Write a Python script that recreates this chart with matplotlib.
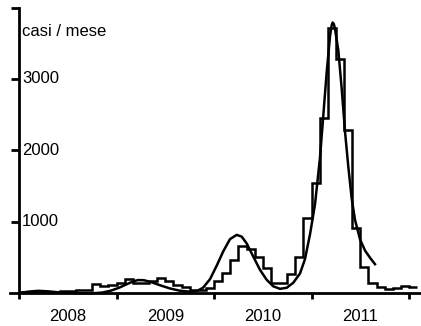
import matplotlib
import matplotlib.pyplot as plt
import numpy as np

matplotlib.use("Agg")
plt.rcParams["font.family"] = ["Liberation Sans", "DejaVu Sans"]

# monthly cases, Jan 2008 .. Jan 2012
cases_2008 = [20, 25, 25, 25, 25, 30, 30, 55, 55, 130, 110, 115]
cases_2009 = [140, 205, 140, 140, 178, 212, 178, 120, 85, 55, 55, 80]
cases_2010 = [170, 280, 465, 665, 620, 510, 350, 148, 145, 270, 515, 1050]
cases_2011 = [1540, 2450, 3710, 3280, 2290, 920, 375, 145, 95, 65, 75, 110]
cases_2012 = [95]
first_year = 2008

# fitted curve (decimal year, cases/month)
fit_year = [2008.000, 2008.092, 2008.195, 2008.297, 2008.421, 2008.574, 2008.749,
            2008.851, 2008.944, 2009.026, 2009.097, 2009.169, 2009.221, 2009.282,
            2009.354, 2009.446, 2009.549, 2009.651, 2009.754, 2009.826, 2009.887,
            2009.959, 2010.028, 2010.095, 2010.164, 2010.233, 2010.284, 2010.335,
            2010.403, 2010.472, 2010.541, 2010.608, 2010.677, 2010.746, 2010.813,
            2010.882, 2010.933, 2010.985, 2011.036, 2011.087, 2011.156, 2011.190,
            2011.205, 2011.217, 2011.229, 2011.241, 2011.275, 2011.310, 2011.344,
            2011.377, 2011.412, 2011.446, 2011.497, 2011.549, 2011.600, 2011.651]
fit_cases = [5, 25, 37, 30, 14, 4, 2,
             12, 40, 80, 125, 168, 188, 185,
             160, 115, 70, 38, 25, 35, 80,
             200, 390, 590, 760, 820, 795, 700,
             515, 330, 190, 100, 65, 80, 150,
             280, 480, 830, 1250, 1900, 3100, 3600,
             3740, 3790, 3770, 3700, 3400, 2860, 2260,
             1780, 1330, 1030, 760, 600, 500, 410]

year_labels = ["2008", "2009", "2010", "2011"]
y_ticks = [1000, 2000, 3000, 4000]
y_tick_labels = ["1000", "2000", "3000", ""]
unit_label = "casi / mese"

cases = np.array(cases_2008 + cases_2009 + cases_2010 + cases_2011 + cases_2012)
edges = first_year + np.arange(len(cases) + 1) / 12.0

fig = plt.figure(figsize=(4.21, 3.26), dpi=100)
ax = fig.add_axes([0, 0, 1, 1])

ax.stairs(cases, edges, baseline=None, color="black", linewidth=1.8)
ax.plot(fit_year, fit_cases, color="black", linewidth=1.8)

ax.set_xlim(2007.805, 2012.123)
ax.set_ylim(-455, 4105)

for side in ["top", "right"]:
    ax.spines[side].set_visible(False)
ax.spines["left"].set_position(("data", first_year))
ax.spines["left"].set_bounds(0, 4000)
ax.spines["bottom"].set_position(("data", 0))
ax.spines["bottom"].set_bounds(2007.908, 2012.123)
for side in ["left", "bottom"]:
    ax.spines[side].set_linewidth(2.0)

years = np.arange(first_year, first_year + len(year_labels) + 1)
ax.set_xticks(years, labels=[""] * len(years))
ax.set_xticks(years[:-1] + 0.5, labels=year_labels, minor=True)
ax.tick_params(axis="x", which="major", direction="out", length=4.3, width=2.0)
ax.tick_params(axis="x", which="minor", length=0, pad=11.5, labelsize=12)

ax.set_yticks(y_ticks, labels=y_tick_labels)
ax.tick_params(axis="y", direction="out", length=5.8, width=2.0, pad=-7.9, labelsize=12)
for lbl in ax.get_yticklabels():
    lbl.set_horizontalalignment("left")
    lbl.set_verticalalignment("center")

ax.text(first_year + 3 / 97.5, 3671, unit_label, fontsize=12, ha="left", va="center")

fig.savefig("out.png", dpi=100)
